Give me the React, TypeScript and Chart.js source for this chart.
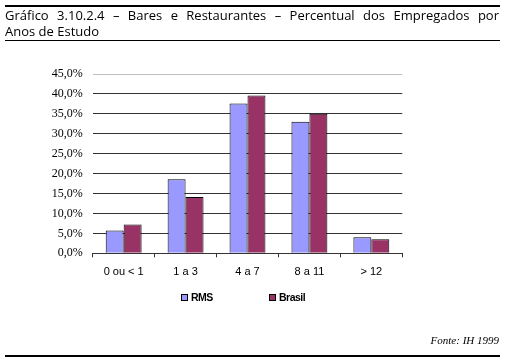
import React, { useEffect, useRef } from "react";
import { Chart, registerables } from "chart.js";

Chart.register(...registerables);

const categories = ["0 ou < 1", "1 a 3", "4 a 7", "8 a 11", "> 12"];
const seriesNames = ["RMS", "Brasil"];
const rmsValues = [5.7, 18.6, 37.6, 33.0, 4.0];
const brasilValues = [7.2, 14.1, 39.6, 35.0, 3.5];
const yMin = 0;
const yMax = 45;
const yStep = 5;
const titleLine1 = "Gráfico 3.10.2.4 – Bares e Restaurantes – Percentual dos Empregados por";
const titleLine2 = "Anos de Estudo";
const sourceText = "Fonte: IH 1999";

const legendPlugin = {
  id: "customLegend",
  afterDraw(chart: any) {
    const ctx = chart.ctx;
    const positions = [181.5, 269.5];
    ctx.save();
    chart.data.datasets.forEach((ds: any, i: number) => {
      const x = positions[i];
      const y = 294.5;
      ctx.fillStyle = ds.backgroundColor;
      ctx.fillRect(x, y, 6, 6);
      ctx.strokeStyle = "#000";
      ctx.lineWidth = 1;
      ctx.strokeRect(x, y, 6, 6);
      ctx.fillStyle = "#000";
      ctx.font = "bold 10.5px 'Liberation Sans', Arial, sans-serif";
      try {
        (ctx as any).letterSpacing = "-0.5px";
      } catch (e) {}
      ctx.textBaseline = "middle";
      ctx.textAlign = "left";
      ctx.fillText(ds.label, x + 9.5, y + 3.5);
    });
    ctx.restore();
  },
};

export default function App() {
  const canvasRef = useRef<HTMLCanvasElement | null>(null);

  useEffect(() => {
    if (!canvasRef.current) return;
    const chart = new Chart(canvasRef.current, {
      type: "bar",
      data: {
        labels: categories,
        datasets: [
          {
            label: seriesNames[0],
            data: rmsValues,
            backgroundColor: "#9999FF",
            borderColor: "#000",
            borderWidth: 1,
          },
          {
            label: seriesNames[1],
            data: brasilValues,
            backgroundColor: "#993366",
            borderColor: "#000",
            borderWidth: 1,
          },
        ],
      },
      options: {
        animation: false,
        responsive: false,
        maintainAspectRatio: false,
        layout: { padding: { left: 0, top: 74, right: 105.7, bottom: 0 } },
        datasets: { bar: { categoryPercentage: 0.58, barPercentage: 1 } },
        plugins: {
          legend: { display: false },
          tooltip: { enabled: false },
        },
        scales: {
          x: {
            afterFit: (scale: any) => {
              scale.height = 109.7;
            },
            grid: {
              offset: true,
              drawOnChartArea: false,
              drawTicks: true,
              tickLength: 4,
              color: "#333",
            },
            border: { display: true, color: "#333" },
            ticks: {
              font: { family: "'Liberation Sans', Arial, sans-serif", size: 11 },
              color: "#000",
              padding: 8,
              maxRotation: 0,
            },
          },
          y: {
            min: yMin,
            max: yMax,
            afterFit: (scale: any) => {
              scale.width = 92.7;
            },
            border: { display: false },
            grid: {
              drawTicks: false,
              color: (c: any) => (c.tick && c.tick.value === yMax ? "#bfbfbf" : "#333"),
            },
            ticks: {
              stepSize: yStep,
              padding: 10,
              font: { family: "'Liberation Serif', 'Times New Roman', serif", size: 12 },
              color: "#000",
              callback: (v: any) => Number(v).toFixed(1).replace(".", ",") + "%",
            },
          },
        },
      },
      plugins: [legendPlugin],
    });
    return () => chart.destroy();
  }, []);

  const words = titleLine1.split(" ");

  return (
    <div style={{ position: "absolute", left: 0, top: 0, width: 508, height: 363, background: "#fff", overflow: "hidden" }}>
      <canvas ref={canvasRef} width={508} height={363} style={{ position: "absolute", left: 0, top: 0, width: 508, height: 363 }} />
      <div style={{ position: "absolute", left: 5, top: 4.7, width: 495, height: 2, background: "#000" }} />
      <div
        style={{
          position: "absolute",
          left: 5,
          top: 6.5,
          width: 494,
          display: "flex",
          justifyContent: "space-between",
          fontFamily: "'Open Sans', sans-serif",
          fontSize: 13,
          lineHeight: "17px",
          color: "#000",
          whiteSpace: "nowrap",
        }}
      >
        {words.map((w, i) => (
          <span key={i}>{w}</span>
        ))}
      </div>
      <div
        style={{
          position: "absolute",
          left: 5,
          top: 22.5,
          fontFamily: "'Open Sans', sans-serif",
          fontSize: 13,
          lineHeight: "17px",
          color: "#000",
          whiteSpace: "nowrap",
        }}
      >
        {titleLine2}
      </div>
      <div style={{ position: "absolute", left: 5, top: 39.5, width: 495, height: 1.5, background: "#000" }} />
      <div
        style={{
          position: "absolute",
          right: 9,
          top: 334,
          fontFamily: "'Liberation Serif', 'Times New Roman', serif",
          fontStyle: "italic",
          fontSize: 11,
          lineHeight: "13px",
          color: "#000",
          whiteSpace: "nowrap",
        }}
      >
        {sourceText}
      </div>
      <div style={{ position: "absolute", left: 5, top: 354.7, width: 495, height: 2, background: "#000" }} />
    </div>
  );
}
